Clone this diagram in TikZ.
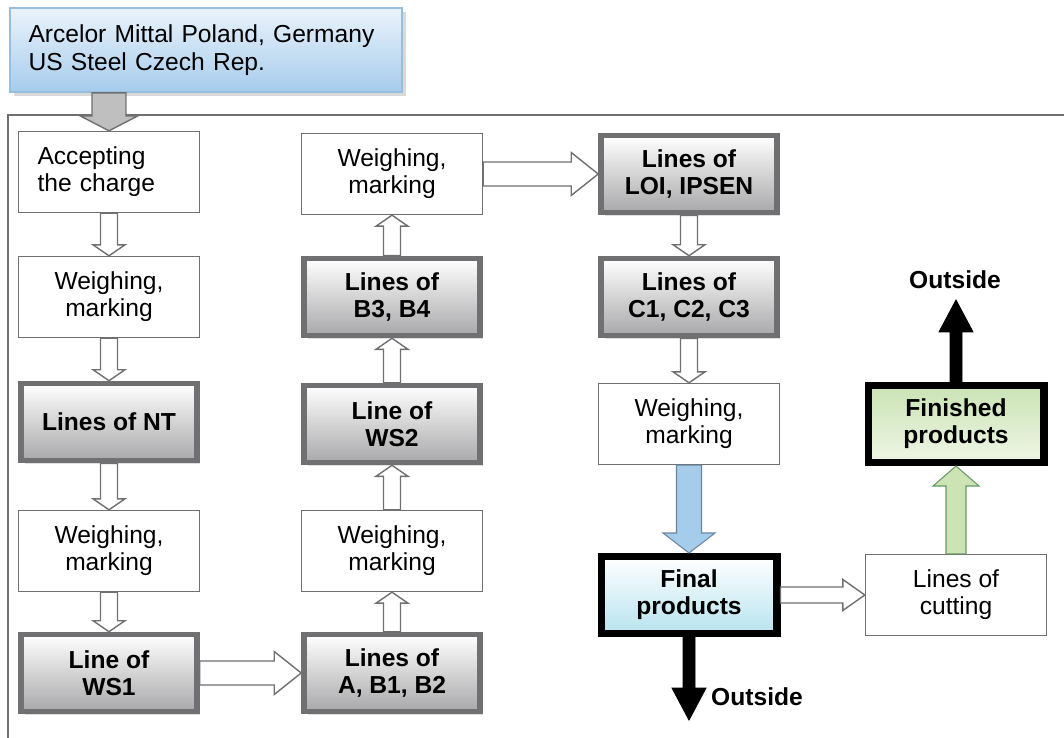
\documentclass[tikz,border=0pt]{standalone}
\usepackage{fontspec}
\setmainfont{Liberation Sans}
\usetikzlibrary{calc, shadows}

\definecolor{boxrim}{RGB}{112,112,114}
\definecolor{boxlow}{RGB}{168,168,170}
\definecolor{srctop}{RGB}{234,243,251}
\definecolor{srclow}{RGB}{166,204,236}
\definecolor{srcrim}{RGB}{150,190,222}
\definecolor{finlow}{RGB}{183,227,239}
\definecolor{donetop}{RGB}{202,227,180}
\definecolor{donelow}{RGB}{238,246,230}
\definecolor{arrblue}{RGB}{166,204,236}
\definecolor{arrgreen}{RGB}{204,228,180}

% block arrow: style, from, to, shaft half width, head half width, head length
\newcommand{\blockarr}[6]{%
  \coordinate (ba-a) at (#2);
  \coordinate (ba-b) at (#3);
  \coordinate (ba-c) at ($(ba-b)!#6!(ba-a)$);
  \draw[#1] ($(ba-a)!#4!90:(ba-b)$) -- ($(ba-c)!#4!-90:(ba-a)$)
    -- ($(ba-c)!#5!-90:(ba-a)$) -- (ba-b) -- ($(ba-c)!#5!90:(ba-a)$)
    -- ($(ba-c)!#4!90:(ba-a)$) -- ($(ba-a)!#4!-90:(ba-b)$) -- cycle;
}

\begin{document}
\begin{tikzpicture}[
  x=0.02cm, y=-0.02cm,
  every node/.style={font=\fontsize{14}{15.5}\selectfont},
  plain/.style={rectangle, draw=boxrim, line width=0.8pt, fill=white,
                minimum width=3.62cm, minimum height=1.62cm, align=center},
  linebox/.style={plain, draw=boxrim, line width=3.2pt, top color=white,
                  bottom color=boxlow, minimum width=3.52cm, minimum height=1.54cm,
                  font=\fontsize{14}{15.5}\selectfont\bfseries,
                  drop shadow={shadow xshift=0.07cm, shadow yshift=-0.07cm, opacity=0.25}},
  endbox/.style={linebox, draw=black, line width=4pt},
  hollow/.style={draw=boxrim, fill=white, line width=0.8pt},
  outarr/.style={draw=black, fill=black, line width=0.5pt},
  outlbl/.style={font=\fontsize{14}{15.5}\selectfont\bfseries},
]
\useasboundingbox (0,0) rectangle (1064,737);

% frame
\draw[boxrim, line width=0.8pt] (8,745) |- (1070,115);

% source
\node[plain, draw=srcrim, line width=1pt, top color=srctop, bottom color=srclow,
      minimum width=7.84cm, minimum height=1.68cm, align=left,
      text width=7.1cm, font=\fontsize{14}{16}\selectfont,
      drop shadow={shadow xshift=0.08cm, shadow yshift=-0.08cm, opacity=0.3}]
      (src) at (206,50) {Arcelor Mittal Poland, Germany\\US Steel Czech Rep.};

% first column
\node[plain, align=left, text width=2.86cm] (acc) at (109,172) {Accepting\\the charge};
\node[plain]   (w1)  at (109,297) {Weighing,\\marking};
\node[linebox] (nt)  at (109,422) {Lines of NT};
\node[plain]   (w2)  at (109,551) {Weighing,\\marking};
\node[linebox] (ws1) at (109,673) {Line of\\WS1};

% second column
\node[plain]   (w3)  at (392,174) {Weighing,\\marking};
\node[linebox] (b34) at (392,297) {Lines of\\B3, B4};
\node[linebox] (ws2) at (392,424) {Line of\\WS2};
\node[plain]   (w4)  at (392,551) {Weighing,\\marking};
\node[linebox] (ab)  at (392,673) {Lines of\\A, B1, B2};

% third column
\node[linebox] (loi) at (689,174) {Lines of\\LOI, IPSEN};
\node[linebox] (cc)  at (689,297) {Lines of\\C1, C2, C3};
\node[plain]   (w5)  at (689,424) {Weighing,\\marking};
\node[endbox, top color=white, bottom color=finlow,
      drop shadow={shadow xshift=0.07cm, shadow yshift=-0.07cm, fill=finlow, opacity=0.8}]
      (fin) at (689,595) {Final\\products};

% fourth column
\node[endbox, top color=donetop, bottom color=donelow] (done) at (956,424) {Finished\\products};
\node[plain] (cut) at (956,595) {Lines of\\cutting};

\coordinate (up)   at (956,300);
\coordinate (down) at (689,720);
\node[outlbl] (o1) at (955,280) {Outside};
\node[outlbl] (o2) at (757,697) {Outside};

% arrows
\blockarr{draw=boxrim, fill=gray!50, line width=0.8pt}{src.south -| acc.north}{acc.north}{0.34cm}{0.58cm}{0.3cm}
\blockarr{hollow}{acc.south}{w1.north}{0.17cm}{0.32cm}{0.22cm}
\blockarr{hollow}{w1.south}{nt.north}{0.17cm}{0.32cm}{0.22cm}
\blockarr{hollow}{nt.south}{w2.north}{0.17cm}{0.32cm}{0.22cm}
\blockarr{hollow}{w2.south}{ws1.north}{0.17cm}{0.32cm}{0.22cm}
\blockarr{hollow}{ws1.east}{ab.west}{0.24cm}{0.43cm}{0.54cm}
\blockarr{hollow}{ab.north}{w4.south}{0.17cm}{0.32cm}{0.22cm}
\blockarr{hollow}{w4.north}{ws2.south}{0.17cm}{0.32cm}{0.22cm}
\blockarr{hollow}{ws2.north}{b34.south}{0.17cm}{0.32cm}{0.22cm}
\blockarr{hollow}{b34.north}{w3.south}{0.17cm}{0.32cm}{0.22cm}
\blockarr{hollow}{w3.east}{loi.west}{0.24cm}{0.43cm}{0.54cm}
\blockarr{hollow}{loi.south}{cc.north}{0.17cm}{0.32cm}{0.22cm}
\blockarr{hollow}{cc.south}{w5.north}{0.17cm}{0.32cm}{0.22cm}
\blockarr{draw=srcrim!70!black, fill=arrblue, line width=0.6pt}{w5.south}{fin.north}{0.25cm}{0.52cm}{0.4cm}
\blockarr{hollow}{fin.east}{cut.west}{0.16cm}{0.31cm}{0.44cm}
\blockarr{draw=gray!80!green, fill=arrgreen, line width=0.6pt}{cut.north}{done.south}{0.2cm}{0.46cm}{0.4cm}
\blockarr{outarr}{done.north}{up}{0.12cm}{0.34cm}{0.64cm}
\blockarr{outarr}{fin.south}{down}{0.12cm}{0.34cm}{0.64cm}
\end{tikzpicture}
\end{document}
